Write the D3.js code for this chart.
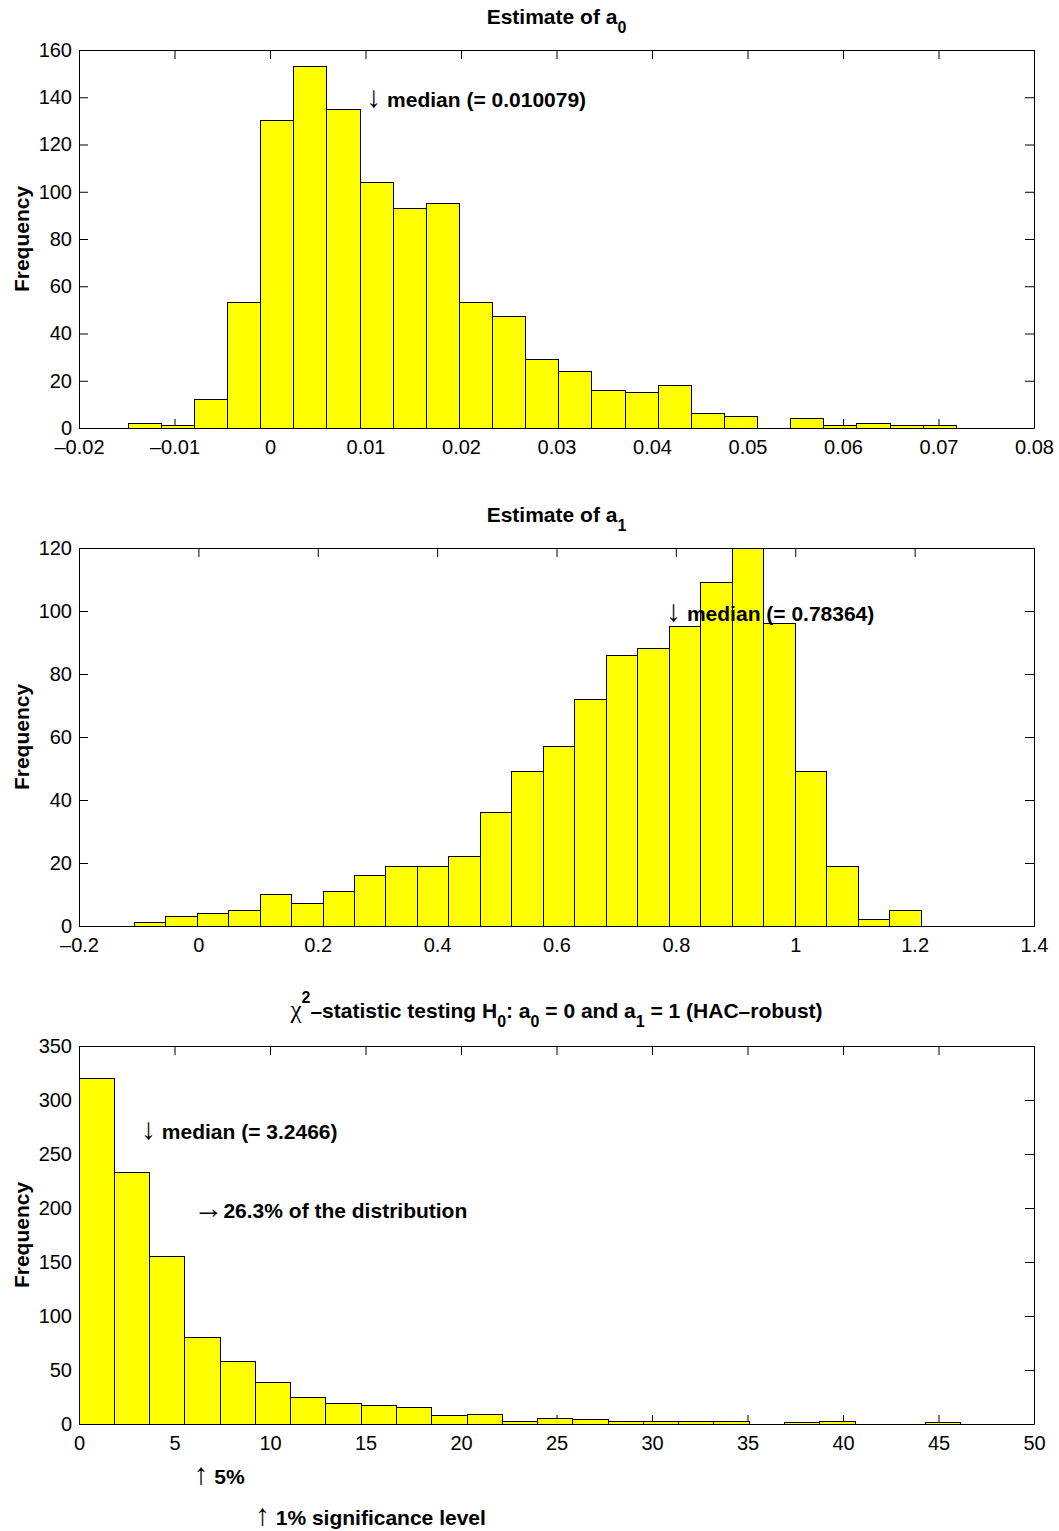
<!DOCTYPE html>
<html>
<head>
<meta charset="utf-8">
<script src="https://cdn.jsdelivr.net/npm/d3@7"></script>
<style>
  body { margin: 0; background: #fff; }
  svg text { font-family: 'Liberation Sans', Arial, Helvetica, sans-serif; fill: #000; }
</style>
</head>
<body>
<div id="chart"></div>
<script>
// histogram counts, 25 equal bins each
const a0Counts = [2, 1, 12, 53, 130, 153, 135, 104, 93, 95, 53, 47, 29, 24, 16, 15, 18, 6, 5, 0, 4, 1, 2, 1, 1];
const a0Range = [-0.014847, 0.071871];
const a0Ticks = [-0.02, -0.01, 0, 0.01, 0.02, 0.03, 0.04, 0.05, 0.06, 0.07, 0.08];
const a0TickLabels = ['\u20130.02', '\u20130.01', '0', '0.01', '0.02', '0.03', '0.04', '0.05', '0.06', '0.07', '0.08'];
const a0YTicks = [0, 20, 40, 60, 80, 100, 120, 140, 160];
const a0Median = 0.010079;

const a1Counts = [1, 3, 4, 5, 10, 7, 11, 16, 19, 19, 22, 36, 49, 57, 72, 86, 88, 95, 109, 120, 96, 49, 19, 2, 5];
const a1Range = [-0.1077, 1.2111];
const a1Ticks = [-0.2, 0, 0.2, 0.4, 0.6, 0.8, 1, 1.2, 1.4];
const a1TickLabels = ['\u20130.2', '0', '0.2', '0.4', '0.6', '0.8', '1', '1.2', '1.4'];
const a1YTicks = [0, 20, 40, 60, 80, 100, 120];
const a1Median = 0.78364;

const chiCounts = [320, 233, 155, 80, 58, 38, 25, 19, 17, 15, 8, 9, 2, 5, 4, 2, 2, 2, 2, 0, 1, 2, 0, 0, 1];
const chiRange = [0, 46.17];
const chiTicks = [0, 5, 10, 15, 20, 25, 30, 35, 40, 45, 50];
const chiTickLabels = ['0', '5', '10', '15', '20', '25', '30', '35', '40', '45', '50'];
const chiYTicks = [0, 50, 100, 150, 200, 250, 300, 350];
const chiMedian = 3.2466;
const chiCrit5 = 5.991;
const chiCrit1 = 9.21;
const chiShareAbove5 = '26.3%';

const width = 1059;
const height = 1531;
const left = 79;
const plotW = 955;
const plotH = 378;
const tick = 9;

const panels = [
  {
    top: 50, counts: a0Counts, range: a0Range, xDomain: [-0.02, 0.08], xTicks: a0Ticks, xLabels: a0TickLabels,
    yMax: 160, yTicks: a0YTicks,
    title: [['Estimate of a'], ['0', 'sub']],
    notes: [{ x: a0Median, y: 140, arrow: '\u2193', text: ` median (= ${a0Median})` }]
  },
  {
    top: 548, counts: a1Counts, range: a1Range, xDomain: [-0.2, 1.4], xTicks: a1Ticks, xLabels: a1TickLabels,
    yMax: 120, yTicks: a1YTicks,
    title: [['Estimate of a'], ['1', 'sub']],
    notes: [{ x: a1Median, y: 100, arrow: '\u2193', text: ` median (= ${a1Median})` }]
  },
  {
    top: 1046, counts: chiCounts, range: chiRange, xDomain: [0, 50], xTicks: chiTicks, xLabels: chiTickLabels,
    yMax: 350, yTicks: chiYTicks,
    title: [['\u03c7', 'sym'], ['2', 'sup'], ['\u2013statistic testing H'], ['0', 'sub'], [': a'], ['0', 'sub'],
            [' = 0 and a'], ['1', 'sub'], [' = 1 (HAC\u2013robust)']],
    notes: [
      { x: chiMedian, y: 273, arrow: '\u2193', text: ` median (= ${chiMedian})` },
      { x: chiCrit5, y: 200, arrow: '\u2192', text: `${chiShareAbove5} of the distribution` },
      { x: chiCrit5, y: -46, arrow: '\u2191', text: ' 5%' },
      { x: chiCrit1, y: -84, arrow: '\u2191', text: ' 1% significance level' }
    ]
  }
];

const svg = d3.select('#chart').append('svg').attr('width', width).attr('height', height);
svg.append('rect').attr('width', width).attr('height', height).attr('fill', '#fff');

panels.forEach((p) => {
  const g = svg.append('g').attr('transform', `translate(${left},${p.top})`);
  const x = d3.scaleLinear().domain(p.xDomain).range([0, plotW]);
  const y = d3.scaleLinear().domain([0, p.yMax]).range([plotH, 0]);

  const n = p.counts.length;
  const bw = (p.range[1] - p.range[0]) / n;
  const bins = p.counts.map((c, i) => ({ x0: p.range[0] + i * bw, x1: p.range[0] + (i + 1) * bw, count: c }));

  const styleAxis = (a) => {
    a.attr('font-size', 20).attr('font-family', null);
    a.select('.domain').attr('stroke', '#000');
    a.selectAll('.tick line').attr('stroke', '#000');
  };

  // ticks point inward on all four sides
  g.append('g')
    .attr('transform', `translate(0,${plotH})`)
    .call(d3.axisBottom(x).tickValues(p.xTicks).tickFormat((d, i) => p.xLabels[i]).tickSizeInner(-tick).tickSizeOuter(0).tickPadding(12))
    .call(styleAxis);
  g.append('g')
    .call(d3.axisTop(x).tickValues(p.xTicks).tickFormat('').tickSizeInner(-tick).tickSizeOuter(0))
    .call(styleAxis);
  g.append('g')
    .call(d3.axisLeft(y).tickValues(p.yTicks).tickSizeInner(-tick).tickSizeOuter(0).tickPadding(7))
    .call(styleAxis);
  g.append('g')
    .attr('transform', `translate(${plotW},0)`)
    .call(d3.axisRight(y).tickValues(p.yTicks).tickFormat('').tickSizeInner(-tick).tickSizeOuter(0))
    .call(styleAxis);

  g.append('g')
    .attr('shape-rendering', 'crispEdges')
    .selectAll('rect')
    .data(bins)
    .join('rect')
    .attr('x', (d) => x(d.x0))
    .attr('width', (d) => x(d.x1) - x(d.x0))
    .attr('y', (d) => y(d.count))
    .attr('height', (d) => y(0) - y(d.count))
    .attr('fill', '#ffff00')
    .attr('stroke', '#000')
    .attr('stroke-width', 1);

  g.append('text')
    .attr('transform', `translate(${29 - left},${plotH / 2}) rotate(-90)`)
    .attr('text-anchor', 'middle')
    .attr('font-size', 21)
    .attr('font-weight', 'bold')
    .text('Frequency');

  // title with sub/superscripts
  const title = g.append('text')
    .attr('x', plotW / 2)
    .attr('y', p.title.some((t) => t[1] === 'sup') ? -28 : -26)
    .attr('text-anchor', 'middle')
    .attr('font-size', 21)
    .attr('font-weight', 'bold');
  let shift = 0;
  p.title.forEach(([s, kind]) => {
    const target = kind === 'sub' ? 9 : kind === 'sup' ? -15 : 0;
    title.append('tspan')
      .attr('dy', target - shift)
      .attr('font-size', kind === 'sub' || kind === 'sup' ? 16 : kind === 'sym' ? 25 : null)
      .attr('font-weight', kind === 'sym' ? 'normal' : null)
      .attr('font-family', kind === 'sym' ? "'Liberation Serif', serif" : null)
      .text(s);
    shift = target;
  });

  p.notes.forEach((d) => {
    const t = g.append('text')
      .attr('x', x(d.x))
      .attr('y', y(d.y))
      .attr('dy', 10)
      .attr('font-size', 21)
      .attr('font-weight', 'bold');
    t.append('tspan').attr('font-weight', 'normal').attr('font-size', 30).text(d.arrow);
    t.append('tspan').text(d.text);
  });
});
</script>
</body>
</html>
